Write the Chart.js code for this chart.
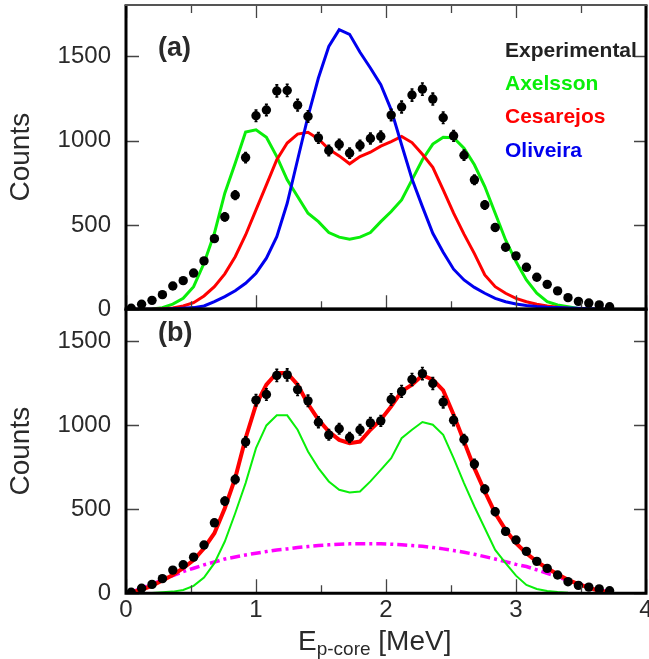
<!DOCTYPE html>
<html>
<head>
<meta charset="utf-8">
<script src="https://cdn.jsdelivr.net/npm/chart.js@4.4.1/dist/chart.umd.min.js"></script>
<style>
  html, body { margin: 0; padding: 0; background: #fff; overflow: hidden; }
  #wrap { position: relative; width: 649px; height: 659px; }
  canvas { position: absolute; left: 0; }
  #top { top: 0; }
  #bottom { top: 290px; }
</style>
</head>
<body>
<div id="wrap">
  <canvas id="top" width="670" height="330"></canvas>
  <canvas id="bottom" width="670" height="369"></canvas>
</div>
<script>
// bin centres, MeV
const energy = [0.04, 0.12, 0.20, 0.28, 0.36, 0.44, 0.52, 0.60, 0.68, 0.76,
    0.84, 0.92, 1.00, 1.08, 1.16, 1.24, 1.32, 1.40, 1.48, 1.56,
    1.64, 1.72, 1.80, 1.88, 1.96, 2.04, 2.12, 2.20, 2.28, 2.36,
    2.44, 2.52, 2.60, 2.68, 2.76, 2.84, 2.92, 3.00, 3.08, 3.16,
    3.24, 3.32, 3.40, 3.48, 3.56, 3.64, 3.72];

const experimental = [6, 30, 53, 87, 138, 170, 215, 287, 419, 548,
    677, 900, 1148, 1182, 1295, 1298, 1211, 1144, 1017, 942,
    978, 926, 972, 1013, 1025, 1152, 1200, 1271, 1306, 1247,
    1136, 1029, 914, 768, 619, 485, 368, 317, 249, 190,
    148, 109, 69, 47, 37, 26, 15];
const expErrors = [4, 6, 8, 10, 12, 13, 15, 17, 20, 24,
    26, 30, 34, 34, 36, 36, 35, 34, 32, 31,
    31, 30, 31, 32, 32, 34, 35, 36, 36, 35,
    34, 32, 30, 28, 25, 22, 19, 18, 16, 14,
    12, 10, 8, 7, 6, 5, 4];

// panel (a)
const axelsson = [0, 0, 2, 10, 31, 65, 134, 273, 451, 689,
    867, 1051, 1065, 1021, 906, 768, 669, 570, 520, 455,
    428, 416, 428, 455, 520, 580, 649, 768, 887, 980,
    1021, 1018, 956, 857, 728, 570, 411, 283, 174, 95,
    45, 26, 15, 5, 2, 0, 0];
const cesarejos = [0, 0, 0, 3, 8, 20, 39, 79, 134, 210,
    312, 441, 590, 738, 887, 986, 1039, 1050, 1010, 950,
    910, 863, 906, 932, 968, 995, 1025, 989, 920, 842,
    708, 570, 446, 330, 204, 134, 95, 65, 45, 30,
    20, 12, 6, 3, 1, 0, 0];
const oliveira = [0, 0, 0, 1, 3, 6, 10, 20, 45, 75,
    110, 154, 214, 303, 431, 629, 887, 1144, 1372, 1559,
    1659, 1631, 1525, 1431, 1332, 1183, 976, 773, 609, 451,
    338, 238, 174, 130, 95, 65, 45, 32, 22, 16,
    12, 10, 8, 6, 4, 2, 1];

// panel (b)
const fitTotal = [6, 20, 46, 76, 109, 149, 198, 268, 357, 506,
    685, 922, 1121, 1240, 1310, 1310, 1240, 1125, 1032, 962,
    912, 892, 902, 972, 1032, 1111, 1200, 1240, 1296, 1270,
    1206, 1062, 903, 744, 605, 476, 377, 298, 238, 188,
    149, 113, 80, 54, 34, 14, 6];
const fitAxelsson = [0, 0, 2, 6, 10, 20, 44, 93, 179, 308,
    476, 655, 863, 998, 1058, 1058, 972, 843, 744, 665,
    615, 599, 605, 665, 734, 803, 922, 972, 1018, 1002,
    942, 803, 655, 516, 387, 258, 179, 105, 50, 26,
    14, 8, 4, 2, 1, 0, 0];
const background = [6, 30, 54, 80, 105, 129, 149, 169, 186, 204,
    216, 228, 238, 248, 258, 264, 272, 278, 284, 288,
    292, 294, 294, 294, 294, 292, 288, 284, 280, 272,
    264, 254, 244, 232, 218, 204, 188, 172, 159, 139,
    119, 99, 76, 54, 38, 20, 6];

const xTicks = [0, 1, 2, 3, 4];
const xMinorTicks = [0.5, 1.5, 2.5, 3.5];
const yTicks = [0, 500, 1000, 1500];

const legendNames = ['Experimental', 'Axelsson', 'Cesarejos', 'Oliveira'];
const legendColors = ['#222222', '#0aee0a', '#ff0000', '#0000ee'];

const FONT = "'Liberation Sans', Helvetica, Arial, sans-serif";
const TEXT = '#2a2a2a';

const pts = (ys) => ys.map((y, i) => ({ x: energy[i], y: y }));

const expDataset = {
    label: 'Experimental',
    data: pts(experimental),
    showLine: false,
    pointRadius: 4.7,
    pointBackgroundColor: '#000',
    pointBorderWidth: 0
};

function curve(label, ys, color, width, dash) {
    return {
        label: label,
        data: pts(ys),
        borderColor: color,
        borderWidth: width,
        borderDash: dash || [],
        pointRadius: 0,
        tension: 0,
        fill: false
    };
}

// error bars, frame and inward ticks
const decor = {
    id: 'decor',
    afterDatasetsDraw(chart) {
        const ctx = chart.ctx;
        const xs = chart.scales.x, ys = chart.scales.y;
        ctx.save();
        ctx.strokeStyle = '#000';
        ctx.lineWidth = 1.6;
        experimental.forEach((v, i) => {
            const px = xs.getPixelForValue(energy[i]);
            const y1 = ys.getPixelForValue(v - expErrors[i]);
            const y2 = ys.getPixelForValue(v + expErrors[i]);
            ctx.beginPath();
            ctx.moveTo(px, y1); ctx.lineTo(px, y2);
            ctx.moveTo(px - 1.5, y1); ctx.lineTo(px + 1.5, y1);
            ctx.moveTo(px - 1.5, y2); ctx.lineTo(px + 1.5, y2);
            ctx.stroke();
        });
        ctx.restore();
    },
    afterDraw(chart, args, opts) {
        const ctx = chart.ctx;
        const a = chart.chartArea;
        const xs = chart.scales.x, ys = chart.scales.y;
        ctx.save();
        ctx.strokeStyle = '#444';
        ctx.lineWidth = 1.3;
        ctx.beginPath();
        xTicks.forEach(v => {
            const px = Math.round(xs.getPixelForValue(v)) + 0.5;
            ctx.moveTo(px, a.bottom); ctx.lineTo(px, a.bottom - 14);
            if (opts.topTicks) { ctx.moveTo(px, a.top); ctx.lineTo(px, a.top + 13); }
        });
        xMinorTicks.forEach(v => {
            const px = Math.round(xs.getPixelForValue(v)) + 0.5;
            ctx.moveTo(px, a.bottom); ctx.lineTo(px, a.bottom - 8);
            if (opts.topTicks) { ctx.moveTo(px, a.top); ctx.lineTo(px, a.top + 8); }
        });
        yTicks.forEach(v => {
            const py = Math.round(ys.getPixelForValue(v)) + 0.5;
            ctx.moveTo(a.left, py); ctx.lineTo(a.left + 13, py);
            ctx.moveTo(a.right, py); ctx.lineTo(a.right - 12, py);
        });
        ctx.stroke();

        // frame
        ctx.strokeStyle = '#000';
        ctx.lineWidth = 3;
        ctx.beginPath();
        ctx.moveTo(a.left, a.top); ctx.lineTo(a.left, a.bottom);
        ctx.lineTo(a.right, a.bottom); ctx.lineTo(a.right, a.top);
        ctx.stroke();
        ctx.lineWidth = opts.topWidth;
        ctx.strokeStyle = opts.topColor;
        ctx.beginPath();
        ctx.moveTo(a.left - 1.5, a.top); ctx.lineTo(a.right + 1.5, a.top);
        ctx.stroke();

        // panel letter
        ctx.fillStyle = TEXT;
        ctx.font = 'bold 27px ' + FONT;
        ctx.textAlign = 'left';
        ctx.textBaseline = 'alphabetic';
        ctx.fillText(opts.panel, 158, a.top + opts.panelDy);

        if (opts.legend) {
            ctx.font = 'bold 21px ' + FONT;
            legendNames.forEach((name, i) => {
                ctx.fillStyle = legendColors[i];
                ctx.fillText(name, 505, 56.7 + i * 33.3);
            });
        }

        if (opts.xTitle) {
            let x = 298;
            const base = 650 - 290;
            ctx.fillStyle = TEXT;
            ctx.font = '28px ' + FONT;
            ctx.fillText('E', x, base);
            x += ctx.measureText('E').width;
            ctx.font = '19px ' + FONT;
            ctx.fillText('p-core', x, base + 5);
            x += ctx.measureText('p-core').width;
            ctx.font = '28px ' + FONT;
            ctx.fillText(' [MeV]', x, base);
        }
        ctx.restore();
    }
};

function yScale(max) {
    return {
        type: 'linear',
        min: 0,
        max: max,
        afterBuildTicks: s => { s.ticks = yTicks.map(v => ({ value: v })); },
        afterFit: s => { s.width = 126; s.paddingTop = 0; s.paddingBottom = 0; },
        grid: { display: false, drawTicks: false },
        border: { display: false },
        ticks: {
            color: TEXT,
            padding: 15,
            font: { size: 24, family: FONT },
            callback: v => String(v)
        },
        title: {
            display: true,
            text: 'Counts',
            color: TEXT,
            padding: { top: 4, bottom: 0 },
            font: { size: 28, family: FONT }
        }
    };
}

Chart.defaults.font.family = FONT;

new Chart(document.getElementById('top'), {
    type: 'line',
    data: {
        datasets: [
            expDataset,
            curve('Oliveira', oliveira, '#0000ee', 3),
            curve('Cesarejos', cesarejos, '#ff0000', 3),
            curve('Axelsson', axelsson, '#0aee0a', 3)
        ]
    },
    options: {
        responsive: false,
        animation: false,
        devicePixelRatio: 1,
        layout: { padding: { top: 5, bottom: 20.7, left: 0, right: 24 } },
        scales: {
            x: { type: 'linear', min: 0, max: 4, display: false },
            y: yScale(1805)
        },
        plugins: {
            legend: { display: false },
            tooltip: { enabled: false },
            decor: { panel: '(a)', panelDy: 51, legend: true, topTicks: true, topWidth: 2, topColor: '#555' }
        }
    },
    plugins: [decor]
});

new Chart(document.getElementById('bottom'), {
    type: 'line',
    data: {
        datasets: [
            expDataset,
            curve('Total fit', fitTotal, '#ff0000', 4),
            curve('Axelsson', fitAxelsson, '#0aee0a', 2),
            curve('Background', background, '#ff00ff', 3.5, [10, 4, 3, 4])
        ]
    },
    options: {
        responsive: false,
        animation: false,
        devicePixelRatio: 1,
        layout: { padding: { top: 19, bottom: 0, left: 0, right: 24 } },
        scales: {
            x: {
                type: 'linear',
                min: 0,
                max: 4,
                afterBuildTicks: s => { s.ticks = xTicks.map(v => ({ value: v })); },
                afterFit: s => { s.height = 65.7; s.paddingLeft = 0; s.paddingRight = 0; },
                grid: { display: false, drawTicks: false },
                border: { display: false },
                ticks: {
                    color: TEXT,
                    padding: 3,
                    maxRotation: 0,
                    font: { size: 24, family: FONT },
                    callback: v => String(v)
                }
            },
            y: yScale(1690)
        },
        plugins: {
            legend: { display: false },
            tooltip: { enabled: false },
            decor: { panel: '(b)', panelDy: 32, legend: false, topTicks: false, topWidth: 3, topColor: '#000', xTitle: true }
        }
    },
    plugins: [decor]
});
</script>
</body>
</html>
